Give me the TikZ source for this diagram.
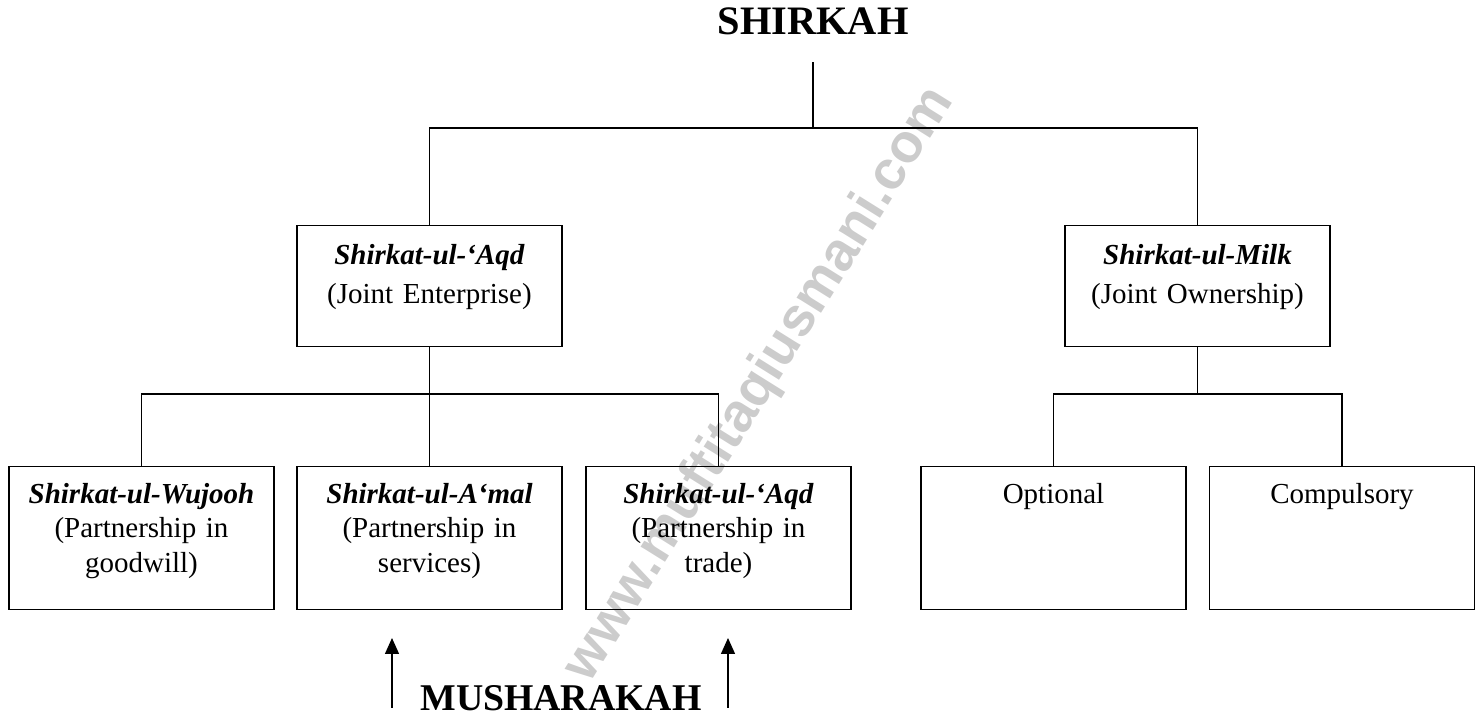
\documentclass[tikz,border=0pt]{standalone}
\usepackage{fontspec}
\setmainfont{Liberation Serif}
\newfontfamily\markfont{Liberation Sans}
\usetikzlibrary{arrows.meta}

\begin{document}
\begin{tikzpicture}[
	heading/.style={font=\fontsize{23}{23}\selectfont\bfseries, inner sep=0pt},
	topbox/.style={rectangle, draw, line width=0.8pt, anchor=north, text width=5cm, inner xsep=0.15cm, inner ysep=0pt, align=center, text height=0.78cm, text depth=1.64cm, font=\fontsize{16.5}{22}\selectfont},
	leafbox/.style={topbox, text height=0.74cm, text depth=2.12cm, font=\fontsize{16.5}{19.5}\selectfont},
	link/.style={line width=0.8pt},
	pointer/.style={line width=0.8pt, -{Triangle[length=0.32cm,width=0.28cm]}}
]

	\useasboundingbox (0,0) rectangle (29.52,14.26);

	\node[rotate=58, text=black!20, font=\markfont\bfseries\fontsize{31}{31}\selectfont] (mark) at (15.2,6.56) {www.muftitaqiusmani.com};

	\def\toprow{9.76}
	\def\leafrow{4.94}

	\node[heading, anchor=base, outer ysep=0.54cm] (shirkah) at (16.26,13.56) {SHIRKAH};
	\coordinate (split) at (16.26,11.70);

	\node[topbox] (aqd) at (8.59,\toprow) {\textbf{\textit{Shirkat-ul-‘Aqd}}\\(Joint Enterprise)};
	\node[topbox] (milk) at (23.95,\toprow) {\textbf{\textit{Shirkat-ul-Milk}}\\(Joint Ownership)};

	\node[leafbox] (wujooh) at (2.83,\leafrow) {\textbf{\textit{Shirkat-ul-Wujooh}}\\(Partnership in\\goodwill)};
	\node[leafbox] (amal) at (8.59,\leafrow) {\textbf{\textit{Shirkat-ul-A‘mal}}\\(Partnership in\\services)};
	\node[leafbox] (trade) at (14.37,\leafrow) {\textbf{\textit{Shirkat-ul-‘Aqd}}\\(Partnership in\\trade)};
	\node[leafbox] (optional) at (21.07,\leafrow) {Optional};
	\node[leafbox] (compulsory) at (26.84,\leafrow) {Compulsory};

	\coordinate (aqdsplit) at (8.59,6.38);
	\coordinate (milksplit) at (23.95,6.38);

	\draw[link] (shirkah.south) -- (split);
	\draw[link] (aqd.north) |- (split) -| (milk.north);

	\draw[link] (aqd.south) -- (amal.north);
	\draw[link] (wujooh.north) |- (aqdsplit) -| (trade.north);

	\draw[link] (milk.south) -- (milksplit);
	\draw[link] (optional.north) |- (milksplit) -| (compulsory.north);

	% musharakah covers the two middle forms
	\node[heading, anchor=base, font=\fontsize{21.5}{21.5}\selectfont\bfseries] (musharakah) at (11.22,0.04) {MUSHARAKAH};
	\coordinate (leftfoot) at (7.84,0.10);
	\coordinate (lefttip) at (7.84,1.50);
	\coordinate (rightfoot) at (14.56,0.10);
	\coordinate (righttip) at (14.56,1.50);
	\draw[pointer] (leftfoot) -- (lefttip);
	\draw[pointer] (rightfoot) -- (righttip);

\end{tikzpicture}
\end{document}
